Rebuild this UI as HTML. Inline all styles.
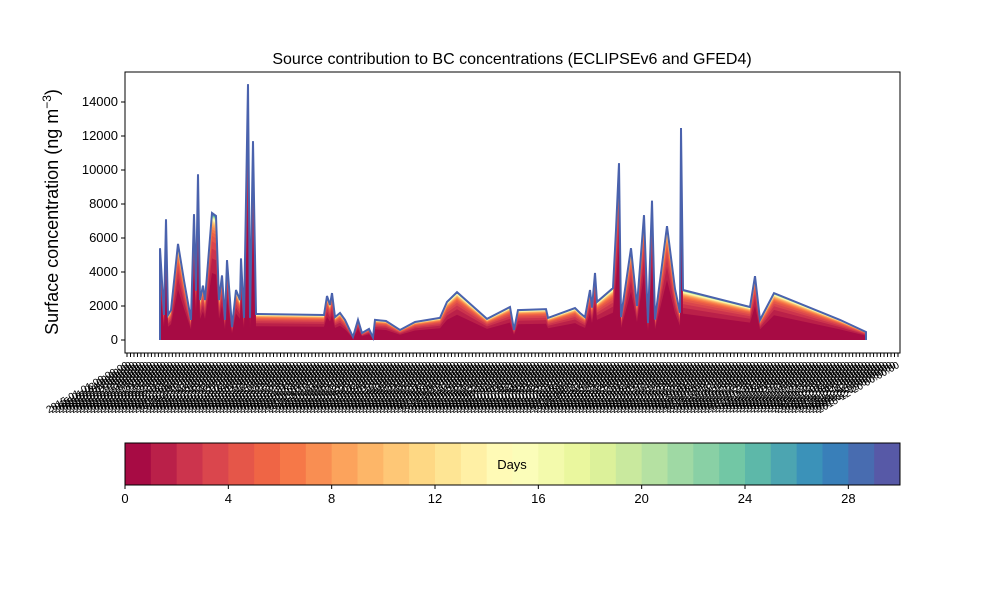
<!DOCTYPE html>
<html><head><meta charset="utf-8"><style>
body{margin:0;background:#fff;width:1000px;height:600px;overflow:hidden}
svg{display:block;font-family:"Liberation Sans","DejaVu Sans",sans-serif}
</style></head><body>
<svg id="fig" width="1000" height="600">
<text x="512" y="64" text-anchor="middle" font-size="16">Source contribution to BC concentrations (ECLIPSEv6 and GFED4)</text>
<text transform="translate(58,212) rotate(-90)" text-anchor="middle" font-size="18">Surface concentration (ng m<tspan dy="-7" font-size="12">−3</tspan><tspan dy="7">)</tspan></text>
<g id="plot"></g>
<g id="xt"></g>
<g id="yt"></g>
<g id="cb"></g>
</svg>
<script>
// data: time (hours-ish index since start) and total concentration
const days=[0,0,4,6,8,11,18,24,31,34,36,38,40,43,45,52,56,59,62,65,67,72,76,80,81,84,88,90,93,96,98,164,167,170,172,175,180,185,193,198,202,209,213,215,226,240,255,280,287,297,327,350,354,358,386,388,415,420,425,430,432,435,437,453,456,459,461,471,477,484,488,492,495,507,515,520,521,523,590,595,600,614,680,706,706];
const totals=[0,5400,1470,7100,1470,1760,5650,3500,1180,7400,2900,9750,2350,3200,2350,7470,7300,2350,3800,1180,4700,760,2940,2350,4800,1300,15050,1300,11700,1530,1530,1470,2590,2060,2760,1350,1590,1180,180,1180,410,650,140,1180,1120,590,1060,1300,2240,2820,1240,1940,590,1760,1820,1300,1880,1590,1350,2940,1900,3940,2240,3060,6470,10400,1350,5400,2000,7350,1000,8200,1200,6700,3000,1600,12470,2940,1940,3760,1180,2760,1180,470,0];
const layerShare=[0.55,0.12,0.08,0.06,0.045,0.03,0.025,0.02,0.015,0.012,0.01,0.008,0.007,0.006,0.005,0.005,0.004,0.004,0.003,0.003,0.003,0.003,0.003,0.003,0.003,0.003,0.003,0.003,0.003,0.004];
const yTicks=[0,2000,4000,6000,8000,10000,12000,14000];
const cbTicks=[0,4,8,12,16,20,24,28];
const NS="http://www.w3.org/2000/svg";
function mk(t,a,p){const e=document.createElementNS(NS,t);for(const k in a)e.setAttribute(k,a[k]);p.appendChild(e);return e;}
const X0=125,X1=900,Y0=72,Y1=353;
const xs=d=>160+d;
const ys=v=>340-v*0.017;
const anchors=["#9e0142","#d53e4f","#f46d43","#fdae61","#fee08b","#ffffbf","#e6f598","#abdda4","#66c2a5","#3288bd","#5e4fa2"].map(h=>[1,3,5].map(i=>parseInt(h.substr(i,2),16)));
function spec(t){const f=t*10,i=Math.min(9,Math.floor(f)),r=f-i;const a=anchors[i],b=anchors[i+1];return `rgb(${a.map((c,k)=>Math.round(c+(b[k]-c)*r)).join(",")})`;}
const plot=document.getElementById('plot');
const sumShare=layerShare.reduce((a,b)=>a+b,0);
for(let L=layerShare.length-1;L>=0;L--){
  let cum=0;for(let k=0;k<=L;k++)cum+=layerShare[k];cum/=sumShare;
  const pts=days.map((d,i)=>xs(d).toFixed(1)+","+ys(totals[i]*cum).toFixed(1));
  pts.push(xs(days[days.length-1]).toFixed(1)+","+ys(0),xs(days[0]).toFixed(1)+","+ys(0));
  const p=mk('polygon',{points:pts.join(" "),fill:spec((L+0.5)/30)},plot);
  
  
}
const topLine=mk('polyline',{points:days.map((d,i)=>xs(d).toFixed(1)+","+ys(totals[i]).toFixed(1)).join(" "),fill:"none",stroke:"#4a62ad","stroke-width":2},plot);


const frame=mk('rect',{x:X0,y:Y0,width:X1-X0,height:Y1-Y0,fill:"none",stroke:"#000","stroke-width":1},plot);


const yt=document.getElementById('yt');
yTicks.forEach(v=>{const y=ys(v);mk('line',{x1:X0-4,x2:X0,y1:y,y2:y,stroke:"#000"},yt);
 const t=mk('text',{x:X0-7,y:y+4,"text-anchor":"end","font-size":13},yt);t.textContent=v;
 
 });
const xt=document.getElementById('xt');
const n=222;
for(let i=0;i<n;i++){const x=127+i*(898-127)/(n-1);
 mk('line',{x1:x,x2:x,y1:Y1,y2:Y1+4,stroke:"#000"},xt);
 const dt=new Date(Date.UTC(2015,0,1)+i*86400000*1.6);
 const t=mk('text',{transform:`translate(${x+2},${Y1+14}) rotate(-30)`,"text-anchor":"end","font-size":10},xt);
 t.textContent=dt.toISOString().slice(0,10)+" 00:00:00";
 
 }
const cb=document.getElementById('cb');
const CX0=125,CX1=900,CY0=443,CY1=485,w=(CX1-CX0)/30;
for(let i=0;i<30;i++){const r=mk('rect',{x:CX0+i*w,y:CY0,width:w+0.5,height:CY1-CY0,fill:spec((i+0.5)/30)},cb);
 
 }
mk('rect',{x:CX0,y:CY0,width:CX1-CX0,height:CY1-CY0,fill:"none",stroke:"#000"},cb);
cbTicks.forEach(v=>{const x=CX0+v*w;mk('line',{x1:x,x2:x,y1:CY1,y2:CY1+4,stroke:"#000"},cb);
 const t=mk('text',{x:x,y:CY1+18,"text-anchor":"middle","font-size":13},cb);t.textContent=v;
 
 });
const lab=mk('text',{x:512,y:469,"text-anchor":"middle","font-size":13},cb);lab.textContent="Days";


</script>
</body></html>
